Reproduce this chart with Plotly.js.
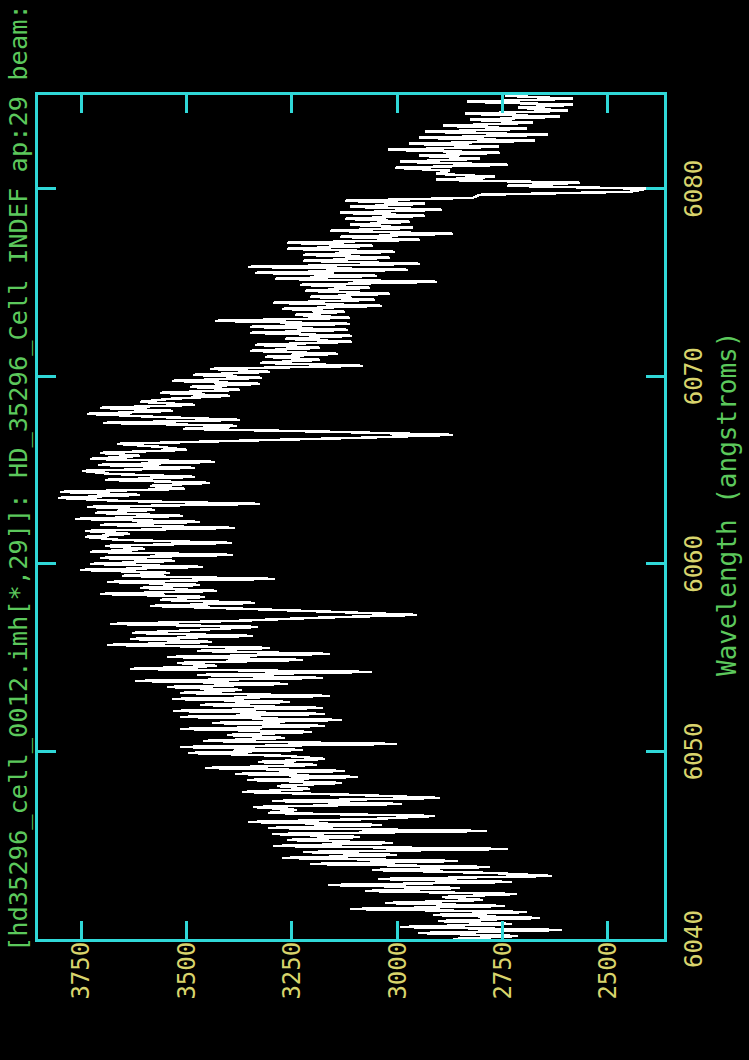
<!DOCTYPE html>
<html>
<head>
<meta charset="utf-8">
<script src="https://cdn.plot.ly/plotly-3.0.1.min.js"></script>
<style>
  html, body { margin: 0; padding: 0; background: #000; }
  #page { position: relative; width: 749px; height: 1060px; overflow: hidden; background: #000; }
  /* splot draws in landscape; the sheet is turned a quarter turn for the portrait page */
  #plot { position: absolute; left: 0; top: 1060px; width: 1060px; height: 749px;
          transform: rotate(-90deg); transform-origin: 0 0; }
  /* graphics-terminal look: hard pixel edges on the spectrum trace */
  #plot .scatterlayer path.js-line { shape-rendering: crispEdges; }
</style>
</head>
<body>
<div id="page"><div id="plot"></div></div>
<script>
// Linear dispersion solution of aperture 29 (CRVAL1 / CDELT1, angstroms)
const crval1 = 6040.0;
const cdelt1 = 0.16;

// Extracted counts, one value per pixel, blue to red
const flux = [
  2868, 2713, 2951, 2609, 2993, 2728, 2903, 2661, 2915, 2692,
  3112, 2744, 3029, 2796, 2894, 2716, 3076, 2851, 3164, 2728,
  3046, 2633, 2775, 3060, 2780, 3207, 2856, 3273, 3000, 3223,
  2737, 3295, 3010, 3261, 3088, 3297, 2787, 3306, 3036, 3354,
  3057, 2910, 3306, 3238, 3342, 2989, 3297, 2898, 3095, 3368,
  3207, 3285, 3131, 3356, 3093, 3385, 3124, 3456, 3190, 3330,
  3171, 3261, 3496, 3223, 3515, 3000, 3461, 3266, 3404, 3202,
  3515, 3171, 3439, 3131, 3515, 3171, 3532, 3176, 3468, 3254,
  3534, 3159, 3515, 3368, 3546, 3259, 3622, 3176, 3475, 3060,
  3634, 3427, 3522, 3223, 3546, 3159, 3475, 3302, 3688, 3439,
  3634, 3342, 3629, 3475, 3330, 3681, 3385, 3200, 2953, 3148,
  3356, 3586, 3337, 3563, 3456, 3705, 3427, 3610, 3468, 3688,
  3290, 3653, 3539, 3752, 3461, 3729, 3527, 3705, 3389, 3729,
  3598, 3693, 3392, 3658, 3741, 3634, 3741, 3385, 3705, 3468,
  3764, 3508, 3717, 3575, 3736, 3325, 3658, 3805, 3610, 3800,
  3503, 3586, 3444, 3693, 3480, 3681, 3748, 3480, 3710, 3432,
  3729, 3610, 3705, 3499, 3563, 3665, 3385, 3093, 2868, 3148,
  3508, 3380, 3698, 3373, 3575, 3736, 3532, 3705, 3480, 3610,
  3539, 3397, 3563, 3373, 3491, 3325, 3534, 3321, 3484, 3302,
  3444, 3081, 3325, 3183, 3313, 3140, 3349, 3183, 3337, 3107,
  3266, 3107, 3349, 3117, 3349, 3112, 3432, 3112, 3242, 3124,
  3273, 3036, 3295, 3053, 3207, 3017, 3219, 3064, 3230, 2905,
  3290, 3048, 3337, 2974, 3354, 2946, 3223, 3017, 3223, 3005,
  3261, 3057, 3261, 2946, 3136, 2868, 3159, 2962, 3112, 2970,
  3124, 2934, 3136, 2894, 3112, 2934, 3124, 2820, 2804, 2448,
  2407, 2739, 2566, 2908, 2768, 2908, 2875, 3005, 2737, 2993,
  2804, 2948, 2756, 3022, 2758, 2972, 2673, 2948, 2642, 2934,
  2692, 2891, 2678, 2827, 2614, 2839, 2595, 2713, 2583, 2834,
  2583, 2744
];

const wave = flux.map((_, i) => crval1 + i * cdelt1);

// Axis ticks and plot window
const waveTicks = [6040, 6050, 6060, 6070, 6080];
const fluxTicks = [2500, 2750, 3000, 3250, 3500, 3750];
const waveRange = [6040, 6085];
const fluxRange = [2367, 3852];

const headerText = "[hd35296_cell_0012.imh[*,29]]: HD_35296_Cell INDEF ap:29 beam:";
const xTitleText = "Wavelength (angstroms)";

const frameCyan = "#30d8d8";
const labelYellow = "#d8d46c";
const titleGreen = "#5cc85c";
const mono = "DejaVu Sans Mono, Liberation Mono, monospace";

const axisCommon = {
  showgrid: false,
  zeroline: false,
  showline: true,
  linecolor: frameCyan,
  linewidth: 3,
  mirror: "ticks",
  ticks: "inside",
  ticklen: 18,
  tickwidth: 3,
  tickcolor: frameCyan,
  tickfont: { family: mono, size: 24, color: labelYellow }
};

const data = [{
  type: "scatter",
  mode: "lines",
  x: wave,
  y: flux,
  line: { color: "#ffffff", width: 2.5, simplify: false },
  hoverinfo: "skip"
}];

const layout = {
  width: 1060,
  height: 749,
  margin: { l: 121, r: 95, t: 38, b: 85, pad: 0 },
  paper_bgcolor: "#000000",
  plot_bgcolor: "#000000",
  showlegend: false,
  xaxis: Object.assign({}, axisCommon, {
    range: waveRange,
    tickmode: "array",
    tickvals: waveTicks,
    ticklabelstandoff: 6
  }),
  yaxis: Object.assign({}, axisCommon, {
    range: fluxRange,
    tickmode: "array",
    tickvals: fluxTicks,
    ticklabelstandoff: -5
  }),
  annotations: [
    {
      text: headerText,
      xref: "paper", yref: "paper",
      x: -0.0178, y: 1.0327,
      xanchor: "left", yanchor: "middle",
      showarrow: false,
      font: { family: mono, size: 25.4, color: titleGreen }
    },
    {
      text: xTitleText,
      xref: "paper", yref: "paper",
      x: 0.5154, y: -0.1014,
      xanchor: "center", yanchor: "middle",
      showarrow: false,
      font: { family: mono, size: 26, color: titleGreen }
    }
  ]
};

Plotly.newPlot("plot", data, layout, { displayModeBar: false, staticPlot: true });
</script>
</body>
</html>
